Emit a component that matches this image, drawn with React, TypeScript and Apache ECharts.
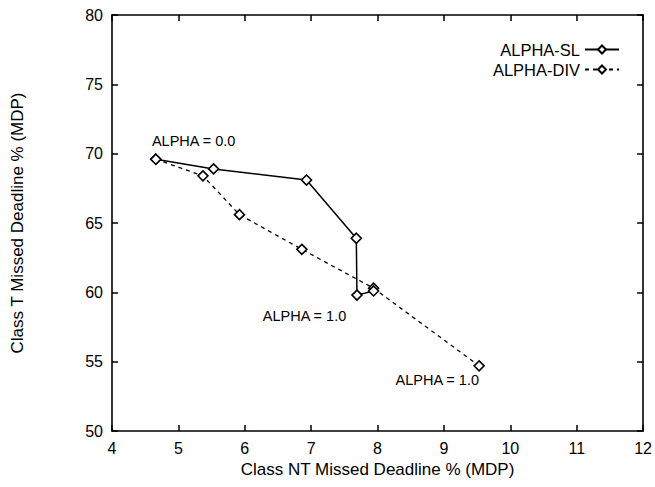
import React, { useEffect, useRef } from "react";
import * as echarts from "echarts";

const xTicks = [4, 5, 6, 7, 8, 9, 10, 11, 12];
const yTicks = [50, 55, 60, 65, 70, 75, 80];
const seriesNames = ["ALPHA-SL", "ALPHA-DIV"];
const slPoints: [number, number][] = [
  [4.66, 69.6],
  [5.53, 68.9],
  [6.93, 68.1],
  [7.68, 63.9],
  [7.69, 59.8],
  [7.94, 60.1],
];
const divPoints: [number, number][] = [
  [4.66, 69.6],
  [5.37, 68.4],
  [5.92, 65.6],
  [6.86, 63.1],
  [7.94, 60.3],
  [9.53, 54.7],
];
const annotations: { coord: [number, number]; text: string }[] = [
  { coord: [5.23, 70.9], text: "ALPHA = 0.0" },
  { coord: [6.9, 58.3], text: "ALPHA = 1.0" },
  { coord: [8.9, 53.7], text: "ALPHA = 1.0" },
];

const FONT = "'Liberation Sans', Arial, Helvetica, sans-serif";

export default function App() {
  const ref = useRef<HTMLDivElement>(null);
  useEffect(() => {
    if (!ref.current) return;
    const chart = echarts.init(ref.current, undefined, { renderer: "svg" });
    const axisLine = { show: true, lineStyle: { color: "#000", width: 1.6 } };
    const axisTick = { show: true, inside: true, length: 6, lineStyle: { color: "#000", width: 1.5 } };
    const symbolStyle = { color: "#fff", borderColor: "#000", borderWidth: 1.6, opacity: 1 };
    chart.setOption({
      animation: false,
      backgroundColor: "#fff",
      textStyle: { fontFamily: FONT },
      grid: { left: 112, right: 11, top: 15, bottom: 56, containLabel: false },
      legend: {
        data: seriesNames,
        orient: "vertical",
        right: 30,
        top: 36,
        align: "right",
        itemWidth: 34,
        itemHeight: 10,
        itemGap: 3,
        textStyle: { fontFamily: FONT, fontSize: 16.5, color: "#000" },
      },
      xAxis: [
        {
          type: "value",
          min: xTicks[0],
          max: xTicks[xTicks.length - 1],
          interval: 1,
          position: "bottom",
          name: "Class NT Missed Deadline % (MDP)",
          nameLocation: "middle",
          nameGap: 27,
          nameTextStyle: { fontFamily: FONT, fontSize: 17, color: "#000" },
          axisLine,
          axisTick,
          axisLabel: { fontFamily: FONT, fontSize: 16, color: "#000", margin: 9 },
          splitLine: { show: false },
        },
        {
          type: "value",
          min: xTicks[0],
          max: xTicks[xTicks.length - 1],
          interval: 1,
          position: "top",
          axisLine,
          axisTick,
          axisLabel: { show: false },
          splitLine: { show: false },
        },
      ],
      yAxis: [
        {
          type: "value",
          min: yTicks[0],
          max: yTicks[yTicks.length - 1],
          interval: 5,
          position: "left",
          name: "Class T Missed Deadline % (MDP)",
          nameLocation: "middle",
          nameGap: 86,
          nameTextStyle: { fontFamily: FONT, fontSize: 17, color: "#000" },
          axisLine,
          axisTick,
          axisLabel: { fontFamily: FONT, fontSize: 16, color: "#000", margin: 9 },
          splitLine: { show: false },
        },
        {
          type: "value",
          min: yTicks[0],
          max: yTicks[yTicks.length - 1],
          interval: 5,
          position: "right",
          axisLine,
          axisTick,
          axisLabel: { show: false },
          splitLine: { show: false },
        },
      ],
      series: [
        {
          name: seriesNames[0],
          type: "line",
          data: slPoints,
          symbol: "diamond",
          symbolSize: 10,
          itemStyle: symbolStyle,
          lineStyle: { color: "#000", width: 1.5, type: "solid" },
          z: 3,
        },
        {
          name: seriesNames[1],
          type: "line",
          data: divPoints,
          symbol: "diamond",
          symbolSize: 10,
          itemStyle: symbolStyle,
          lineStyle: { color: "#000", width: 1.3, type: [4, 4] },
          z: 2,
        },
        {
          name: "annotations",
          type: "scatter",
          data: annotations.map((a) => ({ value: a.coord, name: a.text })),
          symbolSize: 0,
          itemStyle: { color: "#000", opacity: 1 },
          label: {
            show: true,
            position: "inside",
            formatter: (p: any) => p.name,
            fontFamily: FONT,
            fontSize: 14.5,
            color: "#000",
            opacity: 1,
          },
          emphasis: { disabled: true },
          silent: true,
          z: 4,
        },
      ],
    });
    return () => chart.dispose();
  }, []);
  return (
    <div
      ref={ref}
      style={{ position: "fixed", left: 0, top: 0, width: 655, height: 487 }}
    />
  );
}
